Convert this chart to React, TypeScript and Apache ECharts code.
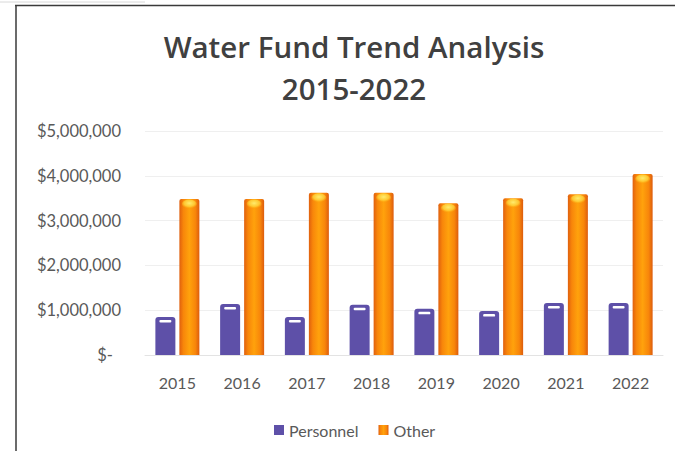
import React, { useEffect, useRef } from "react";
import * as echarts from "echarts";

const years = ["2015", "2016", "2017", "2018", "2019", "2020", "2021", "2022"];
const personnel = [850000, 1140000, 850000, 1120000, 1030000, 980000, 1160000, 1160000];
const other = [3480000, 3480000, 3620000, 3620000, 3390000, 3500000, 3590000, 4040000];
const seriesNames = ["Personnel", "Other"];
const titleLines = ["Water Fund Trend Analysis", "2015-2022"];

const FONT = "Lato, 'Open Sans', sans-serif";
const TITLE_FONT = "'Open Sans', Lato, sans-serif";
const BAR_W = 20;
const BAR_OFFSET = 12;

export default function App() {
  const ref = useRef<HTMLDivElement>(null);
  useEffect(() => {
    if (!ref.current) return;
    const chart = echarts.init(ref.current, null, { renderer: "svg" });
    chart.setOption({
      animation: false,
      backgroundColor: "#ffffff",
      textStyle: { fontFamily: FONT },
      graphic: [
        { type: "line", shape: { x1: 0, y1: 2, x2: 145, y2: 2 }, style: { stroke: "#d8d8d8", lineWidth: 1 } },
        { type: "line", shape: { x1: 15, y1: 5.5, x2: 675, y2: 5.5 }, style: { stroke: "#3a3a3a", lineWidth: 1.5 } },
        { type: "line", shape: { x1: 16, y1: 5, x2: 16, y2: 451 }, style: { stroke: "#3a3a3a", lineWidth: 1.5 } },
        {
          type: "text",
          x: 354,
          y: 25,
          style: {
            text: titleLines.join("\n"),
            fontFamily: TITLE_FONT,
            fontWeight: 600,
            fontSize: 29.5,
            lineHeight: 42,
            fill: "#404040",
            textAlign: "center",
            textVerticalAlign: "top",
          },
        },
      ],
      legend: {
        data: seriesNames,
        top: 417,
        left: 269,
        itemWidth: 10,
        itemHeight: 10,
        itemGap: 20,
        icon: "rect",
        textStyle: { color: "#595959", fontSize: 16, fontFamily: FONT },
      },
      grid: { left: 145, right: 12, top: 131, bottom: 96, containLabel: false },
      xAxis: {
        type: "category",
        data: years,
        axisLine: { lineStyle: { color: "#e3e3e3" } },
        axisTick: { show: false },
        axisLabel: { color: "#595959", fontSize: 16, margin: 19, fontFamily: FONT },
      },
      yAxis: {
        type: "value",
        min: 0,
        max: 5000000,
        interval: 1000000,
        axisLine: { show: false },
        axisTick: { show: false },
        splitLine: { lineStyle: { color: "#efefef" } },
        axisLabel: {
          color: "#595959",
          fontSize: 16.5,
          margin: 24,
          fontFamily: FONT,
          formatter: (v: number) => (v === 0 ? "{z|$-}" : "$" + v.toLocaleString("en-US")),
          rich: { z: { color: "#595959", fontSize: 16.5, fontFamily: FONT, padding: [0, 8, 0, 0] } },
        },
      },
      series: [
        {
          name: seriesNames[0],
          type: "bar",
          data: personnel,
          barWidth: BAR_W,
          barGap: "20%",
          itemStyle: { color: "#5e50a8", borderRadius: [3, 3, 0, 0] },
        },
        {
          name: seriesNames[1],
          type: "bar",
          data: other,
          barWidth: BAR_W,
          itemStyle: {
            color: new echarts.graphic.LinearGradient(0, 0, 1, 0, [
              { offset: 0, color: "#e0600e" },
              { offset: 0.2, color: "#f8860a" },
              { offset: 0.5, color: "#ffa20c" },
              { offset: 0.8, color: "#f8860a" },
              { offset: 1, color: "#dc5c0e" },
            ]),
            borderRadius: [2, 2, 0, 0],
          },
        },
        {
          name: "personnelHighlight",
          type: "custom",
          silent: true,
          z: 5,
          data: personnel.map((v, i) => [i, v]),
          renderItem: (params: any, api: any) => {
            const p = api.coord([api.value(0), api.value(1)]);
            const cx = p[0] - BAR_OFFSET;
            return {
              type: "rect",
              shape: { x: cx - 6, y: p[1] + 3, width: 12, height: 2.5, r: 1.2 },
              style: { fill: "#ffffff" },
            };
          },
        },
        {
          name: "otherCap",
          type: "custom",
          silent: true,
          z: 5,
          data: other.map((v, i) => [i, v]),
          renderItem: (params: any, api: any) => {
            const p = api.coord([api.value(0), api.value(1)]);
            const cx = p[0] + BAR_OFFSET;
            return {
              type: "ellipse",
              shape: { cx, cy: p[1] + 5, rx: 7.5, ry: 4.5 },
              style: {
                fill: new echarts.graphic.RadialGradient(0.5, 0.4, 0.6, [
                  { offset: 0, color: "rgba(255,236,110,1)" },
                  { offset: 0.6, color: "rgba(255,214,60,0.8)" },
                  { offset: 1, color: "rgba(255,180,20,0)" },
                ]),
              },
            };
          },
        },
      ],
    });
    return () => chart.dispose();
  }, []);
  return (
    <div
      ref={ref}
      style={{ position: "fixed", left: 0, top: 0, width: 675, height: 451 }}
    />
  );
}
